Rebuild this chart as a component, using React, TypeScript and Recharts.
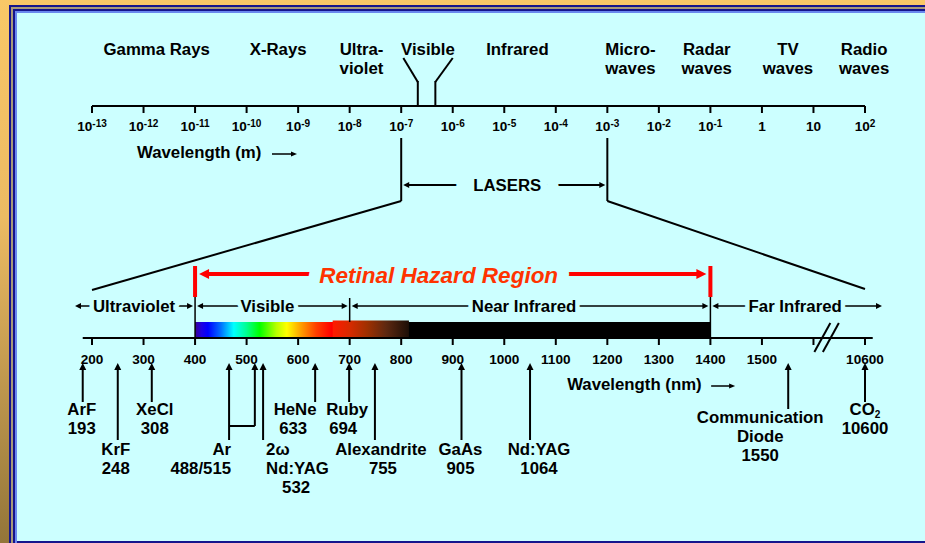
import React from 'react';
import { ComposedChart, XAxis, YAxis, Scatter, ReferenceLine, ReferenceArea } from 'recharts';

// ---------- data ----------
const bandNames = [['Gamma Rays'], ['X-Rays'], ['Ultra-', 'violet'], ['Visible'], ['Infrared'], ['Micro-', 'waves'], ['Radar', 'waves'], ['TV', 'waves'], ['Radio', 'waves']];
const bandCentresM = [1.8e-12, 4.1e-10, 1.7e-8, 3.3e-7, 1.8e-5, 2.8e-3, 8.5e-2, 3.2, 96];

const meterTicks = [1e-13, 1e-12, 1e-11, 1e-10, 1e-9, 1e-8, 1e-7, 1e-6, 1e-5, 1e-4, 1e-3, 1e-2, 1e-1, 1, 10, 100];
const meterTickLabels = ['10^-13', '10^-12', '10^-11', '10^-10', '10^-9', '10^-8', '10^-7', '10^-6', '10^-5', '10^-4', '10^-3', '10^-2', '10^-1', '1', '10', '10^2'];

const visibleStemsM = [2.1e-7, 4.6e-7];
const visibleFlareM = [1.1e-7, 1.0e-6];
const laserSpanM = [1e-7, 1e-3];

// nm axis as drawn: 1600 is the unlabelled tick before the break, 10600 sits at 1700
const nmTicks = [200, 300, 400, 500, 600, 700, 800, 900, 1000, 1100, 1200, 1300, 1400, 1500, 1600, 1700];
const nmTickLabels = ['200', '300', '400', '500', '600', '700', '800', '900', '1000', '1100', '1200', '1300', '1400', '1500', '', '10600'];
const nmAxisEnds = [182, 1715];
const nmAxisBreak = 1625;

const regionNames = ['Ultraviolet', 'Visible', 'Near Infrared', 'Far Infrared'];
const regionBounds = [167, 400, 700, 1400, 1733];
const hazardSpan = [400, 1400];
const spectrumSpan = [400, 1400];
const deepRedSpan = [667, 815];

const laserNames = [['ArF'], ['KrF'], ['XeCl'], ['Ar'], ['2ω', 'Nd:YAG'], ['HeNe'], ['Ruby'], ['Alexandrite'], ['GaAs'], ['Nd:YAG'], ['Communication', 'Diode'], ['CO₂']];
const laserWaves = ['193', '248', '308', '488/515', '532', '633', '694', '755', '905', '1064', '1550', '10600'];
const laserAxisAt = [[182], [250], [316], [466, 516], [532], [633], [699], [749], [917], [1050], [1551], [1700]];

// ---------- layout / style ----------
const W = 925;
const H = 543;
const PLOT_L = 60;
const PLOT_R = 895;
const TICK_L = 92;
const TICK_R = 865;
const PX_PER_DECADE = (TICK_R - TICK_L) / 15;
const NM_DOMAIN = [200 - ((TICK_L - PLOT_L) / PX_PER_DECADE) * 100, 1700 + ((PLOT_R - TICK_R) / PX_PER_DECADE) * 100];
const M_DOMAIN = [Math.pow(10, -13 - (TICK_L - PLOT_L) / PX_PER_DECADE), Math.pow(10, 2 + (PLOT_R - TICK_R) / PX_PER_DECADE)];
// both axes share the same pixel span, so a metre value can be re-expressed on the nm axis
const mToNm = (m: number) => 200 + (Math.log10(m) + 13) * 100;

const FONT = '"Liberation Sans", Arial, Helvetica, sans-serif';
const BG = '#ccffff';
const INK = '#000000';
const RED = '#ff0000';
const RED_TEXT = '#ff3300';
const LINE = 19;
const ARROW_TIP = 363;
const JOIN_Y = 426;

const LASER_LAYOUT: { row: 'upper' | 'lower' | 'diode'; anchor: 'start' | 'middle' | 'end'; dx: number[] }[] = [
  { row: 'upper', anchor: 'middle', dx: [-1] },
  { row: 'lower', anchor: 'middle', dx: [-2] },
  { row: 'upper', anchor: 'middle', dx: [3] },
  { row: 'lower', anchor: 'end', dx: [2] },
  { row: 'lower', anchor: 'start', dx: [3, 3, 19] },
  { row: 'upper', anchor: 'middle', dx: [-20, -22] },
  { row: 'upper', anchor: 'middle', dx: [-2, -6] },
  { row: 'lower', anchor: 'middle', dx: [6, 8] },
  { row: 'lower', anchor: 'middle', dx: [-1] },
  { row: 'lower', anchor: 'middle', dx: [9] },
  { row: 'diode', anchor: 'middle', dx: [-28] },
  { row: 'upper', anchor: 'middle', dx: [0] },
];
const ROWS = {
  upper: { stemEnd: 402, base: 415 },
  lower: { stemEnd: 440, base: 455 },
  diode: { stemEnd: 409, base: 423 },
};
const REGION_DX = [0, -5, -6, -2];

const spectrumStops: [number, string][] = [
  [400, '#3a0090'], [412, '#2000e0'], [425, '#0000ff'], [450, '#0070ff'], [475, '#00ffff'],
  [500, '#00ff90'], [525, '#00ff00'], [558, '#b8ff00'], [578, '#ffff00'], [605, '#ffa000'],
  [635, '#ff4000'], [665, '#ff0000'], [815, '#000000'], [1400, '#000000'],
];
const deepRedStops: [number, string][] = [
  [0, '#ff1a00'], [0.22, '#d82a00'], [0.45, '#a03000'], [0.7, '#5e2810'], [1, '#1c0e06'],
];

type TxtProps = {
  x: number; y: number; text: string; size?: number; anchor?: 'start' | 'middle' | 'end';
  fill?: string; italic?: boolean; halo?: number;
};
function Txt({ x, y, text, size = 16.8, anchor = 'middle', fill = INK, italic = false, halo = 0 }: TxtProps) {
  let body: React.ReactNode = text;
  if (text.includes('^')) {
    const [base, sup] = text.split('^');
    body = <>{base}<tspan fontSize={size * 0.74} dy={-size * 0.3}>{sup}</tspan></>;
  } else if (text.includes('₂')) {
    const [base] = text.split('₂');
    body = <>{base}<tspan fontSize={size * 0.6} dy={size * 0.16}>2</tspan></>;
  }
  return (
    <text
      x={x} y={y} textAnchor={anchor} fontFamily={FONT} fontWeight="bold"
      fontStyle={italic ? 'italic' : 'normal'} fontSize={size} fill={fill}
      stroke={halo ? BG : 'none'} strokeWidth={halo} strokeLinejoin="round" paintOrder="stroke"
    >
      {body}
    </text>
  );
}

type ArrowOpts = {
  color?: string; width?: number; len?: number; half?: number; inset?: [number, number];
  label?: string; dx?: number; dy?: number; size?: number; italic?: boolean; fill?: string; halo?: number;
};
const arrowShape = (o: ArrowOpts) => (p: any) => {
  const color = o.color ?? INK;
  const width = o.width ?? 1.5;
  const len = o.len ?? 6;
  const half = o.half ?? 3;
  const [il, ir] = o.inset ?? [0, 0];
  const l = Math.min(p.x1, p.x2) + il;
  const r = Math.max(p.x1, p.x2) - ir;
  const y = p.y1;
  return (
    <g>
      <line x1={l + len - 1} y1={y} x2={r - len + 1} y2={y} stroke={color} strokeWidth={width} />
      <polygon points={`${l},${y} ${l + len},${y - half} ${l + len},${y + half}`} fill={color} />
      <polygon points={`${r},${y} ${r - len},${y - half} ${r - len},${y + half}`} fill={color} />
      {o.label && (
        <Txt x={(l + r) / 2 + (o.dx ?? 0)} y={y + (o.dy ?? 6)} text={o.label} size={o.size}
          italic={o.italic} fill={o.fill} halo={o.halo} />
      )}
    </g>
  );
};

const seg = (key: string, axis: 'm' | 'nm', a: [number, number], b: [number, number], width = 2, color = INK, shape?: any) => (
  <ReferenceLine
    key={key} xAxisId={axis} segment={[{ x: a[0], y: a[1] }, { x: b[0], y: b[1] }]}
    stroke={color} strokeWidth={width} ifOverflow="visible" shape={shape}
  />
);

const upArrow = (cx: number, tip: number, end: number) => (
  <g>
    <line x1={cx} y1={tip + 5} x2={cx} y2={end} stroke={INK} strokeWidth={2} />
    <polygon points={`${cx},${tip} ${cx - 3.5},${tip + 7} ${cx + 3.5},${tip + 7}`} fill={INK} />
  </g>
);

// ---------- scatter payloads ----------
const bandPoints = bandCentresM.map((x, i) => ({ x, y: 55, i }));
const meterTickPoints = meterTicks.map((x, i) => ({ x, y: 106, i }));
const nmTickPoints = nmTicks.map((x, i) => ({ x, y: 338, i }));
const laserPoints = laserAxisAt.map((at, i) => ({ x: at[0], y: ARROW_TIP, i }));
const laserExtraPoints = laserAxisAt.flatMap((at, i) => at.slice(1).map((x) => ({ x, y: ARROW_TIP, i })));

function Frame() {
  const layer = (bg: string, children?: React.ReactNode, extra: React.CSSProperties = {}) => (
    <div style={{ width: '100%', height: '100%', boxSizing: 'border-box', padding: '2px 0 0 2px', background: bg, ...extra }}>
      {children}
    </div>
  );
  return (
    <div style={{ position: 'absolute', left: 9, top: 5, width: W, height: H - 5 }}>
      {layer('#15158c',
        layer('#a89a7a',
          layer('#15158c',
            layer('#6a88ee',
              <div style={{ width: '100%', height: '100%', background: BG, boxSizing: 'border-box', borderBottom: '2px solid #15158c' }} />,
            ),
          ),
        ),
        { padding: '2px 0 0 2px' },
      )}
    </div>
  );
}

export default function App() {
  return (
    <div
      style={{
        position: 'absolute', left: 0, top: 0, width: W, height: H, overflow: 'hidden',
        background: 'linear-gradient(to bottom, #f9c867 0%, #ecbb63 40%, #937539 100%)',
      }}
    >
      <Frame />
      <div style={{ position: 'absolute', left: 0, top: 0 }}>
        <ComposedChart width={W} height={H} margin={{ top: 0, right: W - PLOT_R, bottom: 0, left: PLOT_L }}>
          <defs>
            <linearGradient id="spectrum" x1="0" y1="0" x2="1" y2="0">
              {spectrumStops.map(([nm, c]) => (
                <stop key={nm} offset={(nm - spectrumSpan[0]) / (spectrumSpan[1] - spectrumSpan[0])} stopColor={c} />
              ))}
            </linearGradient>
            <linearGradient id="deepred" x1="0" y1="0" x2="1" y2="0">
              {deepRedStops.map(([o, c]) => <stop key={o} offset={o} stopColor={c} />)}
            </linearGradient>
          </defs>
          <XAxis xAxisId="m" type="number" scale="log" dataKey="x" domain={M_DOMAIN} hide />
          <XAxis xAxisId="nm" type="number" dataKey="x" domain={NM_DOMAIN} hide />
          <YAxis type="number" dataKey="y" domain={[0, H]} reversed hide />

          {/* spectrum strip */}
          <ReferenceArea xAxisId="nm" x1={spectrumSpan[0]} x2={spectrumSpan[1]} y1={322} y2={337}
            fill="url(#spectrum)" fillOpacity={1} stroke="none" ifOverflow="visible" />
          <ReferenceArea xAxisId="nm" x1={deepRedSpan[0]} x2={deepRedSpan[1]} y1={320.5} y2={337}
            fill="url(#deepred)" fillOpacity={1} stroke="none" ifOverflow="visible" />

          {/* metre axis */}
          {seg('m-axis', 'm', [meterTicks[0], 106], [meterTicks[meterTicks.length - 1], 106])}
          {seg('vis-l1', 'm', [visibleFlareM[0], 58], [visibleStemsM[0], 82])}
          {seg('vis-l2', 'm', [visibleStemsM[0], 81], [visibleStemsM[0], 106])}
          {seg('vis-r1', 'm', [visibleFlareM[1], 58], [visibleStemsM[1], 82])}
          {seg('vis-r2', 'm', [visibleStemsM[1], 81], [visibleStemsM[1], 106])}

          {/* LASERS bracket and fan */}
          {seg('las-l', 'm', [laserSpanM[0], 138], [laserSpanM[0], 201])}
          {seg('las-r', 'm', [laserSpanM[1], 138], [laserSpanM[1], 201])}
          {seg('las-arrow', 'm', [laserSpanM[0], 185], [laserSpanM[1], 185], 2, INK,
            arrowShape({ width: 2, len: 6, half: 3, inset: [2, 2], label: 'LASERS', dx: 3, dy: 6, halo: 36 }))}
          {seg('fan-l', 'nm', [mToNm(laserSpanM[0]), 201], [nmTicks[0], 290])}
          {seg('fan-r', 'nm', [mToNm(laserSpanM[1]), 201], [nmTicks[nmTicks.length - 1], 289])}

          {/* retinal hazard */}
          {seg('haz-l', 'nm', [hazardSpan[0], 266], [hazardSpan[0], 297], 4, RED)}
          {seg('haz-r', 'nm', [hazardSpan[1], 266], [hazardSpan[1], 297], 4, RED)}
          {seg('haz-arrow', 'nm', [hazardSpan[0], 274], [hazardSpan[1], 274], 4, RED,
            arrowShape({ color: RED, width: 4, len: 10, half: 5, inset: [4, 4], label: 'Retinal Hazard Region',
              dx: -14, dy: 9, size: 22.5, italic: true, fill: RED_TEXT, halo: 24 }))}

          {/* region row */}
          {regionNames.map((name, i) =>
            seg(`reg-${i}`, 'nm', [regionBounds[i], 306], [regionBounds[i + 1], 306], 1.5, INK,
              arrowShape({ width: 1.5, len: 6, half: 3, inset: [i === 0 ? 0 : 2, i === regionNames.length - 1 ? 0 : 2],
                label: name, dx: REGION_DX[i], dy: 5.5, halo: 9 })))}
          {seg('div-400', 'nm', [regionBounds[1], 297], [regionBounds[1], 338], 1.5)}
          {seg('div-700', 'nm', [regionBounds[2], 298], [regionBounds[2], 322], 1.5)}
          {seg('div-1400', 'nm', [regionBounds[3], 297], [regionBounds[3], 338], 1.5)}

          {/* nm axis */}
          {seg('nm-axis', 'nm', [nmAxisEnds[0], 338], [nmAxisEnds[1], 338])}
          {laserAxisAt.filter((a) => a.length > 1).map((a, k) =>
            seg(`join-${k}`, 'nm', [a[0], JOIN_Y], [a[a.length - 1], JOIN_Y]))}

          <Scatter xAxisId="m" data={bandPoints} isAnimationActive={false}
            shape={(p: any) => (
              <g>
                {bandNames[p.payload.i].map((t, k) => <Txt key={k} x={p.cx} y={p.cy + k * LINE} text={t} />)}
              </g>
            )} />
          <Scatter xAxisId="m" data={meterTickPoints} isAnimationActive={false}
            shape={(p: any) => (
              <g>
                <line x1={p.cx} y1={p.cy} x2={p.cx} y2={p.cy + 7} stroke={INK} strokeWidth={2} />
                <Txt x={p.cx} y={p.cy + 25} text={meterTickLabels[p.payload.i]} size={13.6} />
              </g>
            )} />
          <Scatter xAxisId="m" data={[{ x: 7.46e-13, y: 158 }]} isAnimationActive={false}
            shape={(p: any) => (
              <g>
                <Txt x={p.cx} y={p.cy} text="Wavelength (m)" anchor="start" />
                <line x1={p.cx + 135} y1={p.cy - 4} x2={p.cx + 155} y2={p.cy - 4} stroke={INK} strokeWidth={1.5} />
                <polygon points={`${p.cx + 160},${p.cy - 4} ${p.cx + 154},${p.cy - 6.5} ${p.cx + 154},${p.cy - 1.5}`} fill={INK} />
              </g>
            )} />
          <Scatter xAxisId="nm" data={nmTickPoints} isAnimationActive={false}
            shape={(p: any) => (
              <g>
                <line x1={p.cx} y1={p.cy} x2={p.cx} y2={p.cy + 7} stroke={INK} strokeWidth={2} />
                <Txt x={p.cx} y={p.cy + 26} text={nmTickLabels[p.payload.i]} size={13.6} />
              </g>
            )} />
          <Scatter xAxisId="nm" data={[{ x: nmAxisBreak, y: 337 }]} isAnimationActive={false}
            shape={(p: any) => (
              <g stroke={INK} strokeWidth={2}>
                <line x1={p.cx - 12} y1={p.cy + 15} x2={p.cx + 4} y2={p.cy - 14} />
                <line x1={p.cx - 3.5} y1={p.cy + 15} x2={p.cx + 12.5} y2={p.cy - 14} />
              </g>
            )} />
          <Scatter xAxisId="nm" data={[{ x: 1122, y: 390 }]} isAnimationActive={false}
            shape={(p: any) => (
              <g>
                <Txt x={p.cx} y={p.cy} text="Wavelength (nm)" anchor="start" />
                <line x1={p.cx + 144} y1={p.cy - 4} x2={p.cx + 163} y2={p.cy - 4} stroke={INK} strokeWidth={1.5} />
                <polygon points={`${p.cx + 168},${p.cy - 4} ${p.cx + 162},${p.cy - 6.5} ${p.cx + 162},${p.cy - 1.5}`} fill={INK} />
              </g>
            )} />
          <Scatter xAxisId="nm" data={laserExtraPoints} isAnimationActive={false}
            shape={(p: any) => upArrow(p.cx, p.cy, JOIN_Y)} />
          <Scatter xAxisId="nm" data={laserPoints} isAnimationActive={false}
            shape={(p: any) => {
              const i = p.payload.i;
              const lay = LASER_LAYOUT[i];
              const row = ROWS[lay.row];
              const lines = [...laserNames[i], laserWaves[i]];
              return (
                <g>
                  {upArrow(p.cx, p.cy, row.stemEnd)}
                  {lines.map((t, k) => (
                    <Txt key={k} x={p.cx + (lay.dx[k] ?? lay.dx[0])} y={row.base + k * LINE} text={t} anchor={lay.anchor} />
                  ))}
                </g>
              );
            }} />
        </ComposedChart>
      </div>
    </div>
  );
}
